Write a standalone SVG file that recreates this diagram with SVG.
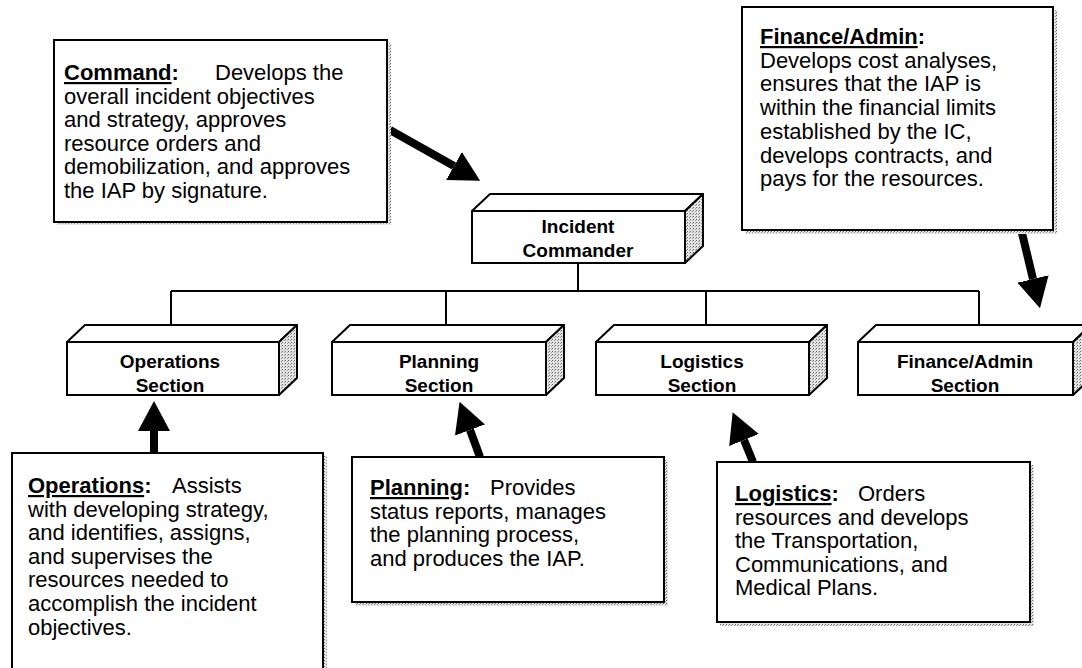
<svg xmlns="http://www.w3.org/2000/svg" width="1082" height="668" viewBox="0 0 1082 668">
<style>
.desc{font-family:"Liberation Sans",Arial,sans-serif;font-size:22px;fill:#000}
.hd{font-weight:bold;text-decoration:underline}
.cl{font-weight:bold}
.lbl{font-family:"Liberation Sans",Arial,sans-serif;font-size:19px;font-weight:bold;fill:#000;text-anchor:middle}
.box{fill:#fff;stroke:#000;stroke-width:2}
.shadow{fill:url(#stip);stroke:none}
.face{fill:#fff;stroke:#000;stroke-width:2;stroke-linejoin:round}
.side{fill:url(#stip);stroke:#000;stroke-width:2;stroke-linejoin:round}
.conn{fill:none;stroke:#000;stroke-width:2}
.arrow{stroke:#000;stroke-width:8;fill:none;marker-end:url(#head)}
</style>
<defs>
<pattern id="stip" width="3" height="3" patternUnits="userSpaceOnUse">
<rect width="3" height="3" fill="#e4e4e4"/>
<rect x="0" y="0" width="1" height="1" fill="#666"/>
<rect x="2" y="1" width="1" height="1" fill="#999"/>
</pattern>
<marker id="head" viewBox="0 -16 30 32" refX="0" refY="0" markerWidth="30" markerHeight="32" markerUnits="userSpaceOnUse" orient="auto">
<path d="M0,-16 L30,0 L0,16 Z" fill="#000"/>
</marker>
</defs>
<rect width="1082" height="668" fill="#fff"/>

<g id="connectors">
<path class="conn" d="M578,263 V291 M171,291 H979 M171,291 V325 M446,291 V325 M706,291 V325 M979,291 V325"/>
<line class="arrow" x1="390" y1="130" x2="454" y2="166"/>
<line class="arrow" x1="1022" y1="233" x2="1033" y2="279"/>
<line class="arrow" x1="154" y1="453" x2="154" y2="431"/>
<line class="arrow" x1="480" y1="457" x2="470" y2="430"/>
<line class="arrow" x1="753" y1="462" x2="744" y2="440"/>
</g>

<g id="command-note">
<rect class="shadow" x="57" y="43" width="334" height="182"/>
<rect class="box" x="54" y="40" width="333" height="182"/>
<text class="desc"><tspan x="64" y="80"><tspan class="hd">Command</tspan><tspan class="cl">:</tspan></tspan><tspan x="215" y="80">Develops the</tspan><tspan x="64" y="103.5">overall incident objectives</tspan><tspan x="64" y="127">and strategy, approves</tspan><tspan x="64" y="150.5">resource orders and</tspan><tspan x="64" y="174">demobilization, and approves</tspan><tspan x="64" y="197.5">the IAP by signature.</tspan></text>
</g>

<g id="finance-note">
<rect class="shadow" x="745" y="10" width="312" height="224"/>
<rect class="box" x="742" y="7" width="311" height="223"/>
<text class="desc"><tspan x="760" y="44"><tspan class="hd">Finance/Admin</tspan><tspan class="cl">:</tspan></tspan><tspan x="760" y="67.7">Develops cost analyses,</tspan><tspan x="760" y="91.4">ensures that the IAP is</tspan><tspan x="760" y="115.1">within the financial limits</tspan><tspan x="760" y="138.8">established by the IC,</tspan><tspan x="760" y="162.5">develops contracts, and</tspan><tspan x="760" y="186.2">pays for the resources.</tspan></text>
</g>

<g id="incident-commander">
<polygon class="face" points="472,211 490,194 703,194 685,211"/>
<polygon class="side" points="685,211 703,194 703,246 685,263"/>
<rect class="box" x="472" y="211" width="213" height="52"/>
<text class="lbl"><tspan x="578" y="233">Incident</tspan><tspan x="578" y="257">Commander</tspan></text>
</g>

<g id="operations-section">
<polygon class="face" points="67,342 85,325 297,325 279,342"/>
<polygon class="side" points="279,342 297,325 297,378 279,395"/>
<rect class="box" x="67" y="342" width="212" height="53"/>
<text class="lbl"><tspan x="170" y="368">Operations</tspan><tspan x="170" y="392">Section</tspan></text>
</g>

<g id="planning-section">
<polygon class="face" points="332,342 350,325 564,325 546,342"/>
<polygon class="side" points="546,342 564,325 564,378 546,395"/>
<rect class="box" x="332" y="342" width="214" height="53"/>
<text class="lbl"><tspan x="439" y="368">Planning</tspan><tspan x="439" y="392">Section</tspan></text>
</g>

<g id="logistics-section">
<polygon class="face" points="596,342 614,325 827,325 809,342"/>
<polygon class="side" points="809,342 827,325 827,378 809,395"/>
<rect class="box" x="596" y="342" width="213" height="53"/>
<text class="lbl"><tspan x="702" y="368">Logistics</tspan><tspan x="702" y="392">Section</tspan></text>
</g>

<g id="finance-section">
<polygon class="face" points="858,342 876,325 1091,325 1073,342"/>
<polygon class="side" points="1073,342 1091,325 1091,378 1073,395"/>
<rect class="box" x="858" y="342" width="215" height="53"/>
<text class="lbl"><tspan x="965" y="368">Finance/Admin</tspan><tspan x="965" y="392">Section</tspan></text>
</g>

<g id="operations-note">
<rect class="shadow" x="15" y="456" width="312" height="230"/>
<rect class="box" x="12" y="453" width="311" height="230"/>
<text class="desc"><tspan x="28" y="493"><tspan class="hd">Operations</tspan><tspan class="cl">:</tspan></tspan><tspan x="172" y="493">Assists</tspan><tspan x="28" y="516.6">with developing strategy,</tspan><tspan x="28" y="540.2">and identifies, assigns,</tspan><tspan x="28" y="563.8">and supervises the</tspan><tspan x="28" y="587.4">resources needed to</tspan><tspan x="28" y="611">accomplish the incident</tspan><tspan x="28" y="634.6">objectives.</tspan></text>
</g>

<g id="planning-note">
<rect class="shadow" x="355" y="460" width="313" height="146"/>
<rect class="box" x="352" y="457" width="312" height="145"/>
<text class="desc"><tspan x="370" y="495"><tspan class="hd">Planning</tspan><tspan class="cl">:</tspan></tspan><tspan x="490" y="495">Provides</tspan><tspan x="370" y="518.5">status reports, manages</tspan><tspan x="370" y="542">the planning process,</tspan><tspan x="370" y="565.5">and produces the IAP.</tspan></text>
</g>

<g id="logistics-note">
<rect class="shadow" x="720" y="465" width="314" height="161"/>
<rect class="box" x="717" y="462" width="313" height="160"/>
<text class="desc"><tspan x="735" y="501"><tspan class="hd">Logistics</tspan><tspan class="cl">:</tspan></tspan><tspan x="858" y="501">Orders</tspan><tspan x="735" y="524.5">resources and develops</tspan><tspan x="735" y="548">the Transportation,</tspan><tspan x="735" y="571.5">Communications, and</tspan><tspan x="735" y="595">Medical Plans.</tspan></text>
</g>
</svg>
